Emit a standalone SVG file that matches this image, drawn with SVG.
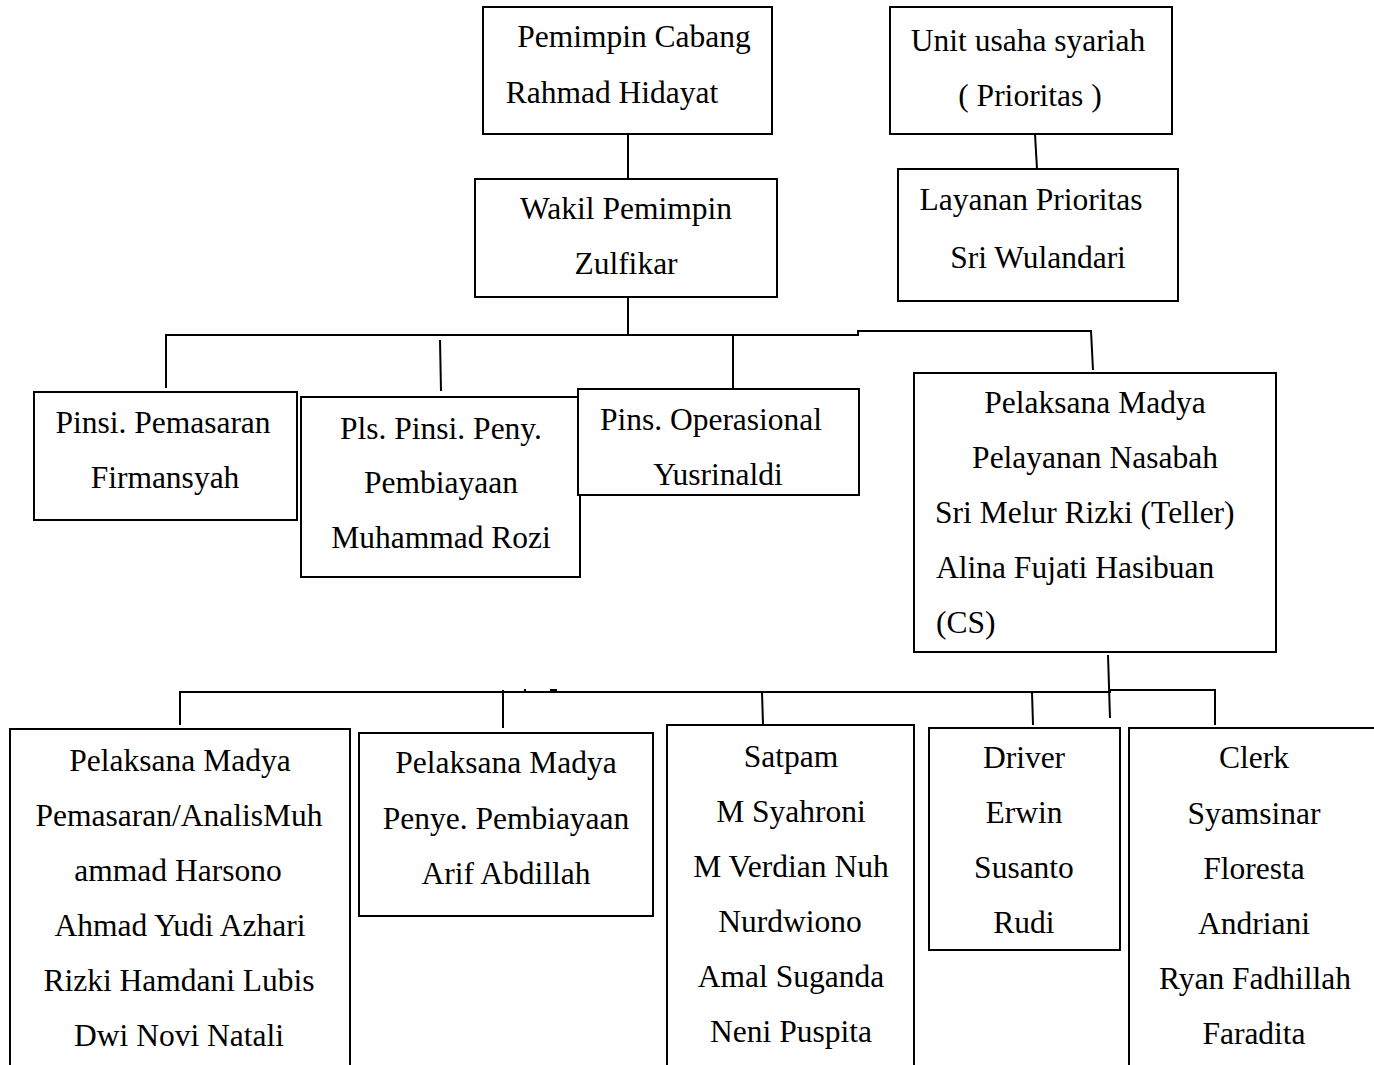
<svg xmlns="http://www.w3.org/2000/svg" width="1374" height="1065" viewBox="0 0 1374 1065">
<style>
  .box { fill: #fff; stroke: #000; stroke-width: 2; }
  .open { fill: none; stroke: #000; stroke-width: 2; }
  .ln { fill: none; stroke: #000; stroke-width: 2; }
  text { font-family: "Liberation Serif", "Times New Roman", serif; font-size: 31.5px; fill: #000; text-anchor: middle; }
  text.l { text-anchor: start; }
</style>
<rect width="1374" height="1065" fill="#fff"/>

<g id="connectors">
  <line class="ln" x1="628" y1="134" x2="628" y2="179"/>
  <line class="ln" x1="1035" y1="134" x2="1037" y2="169"/>
  <line class="ln" x1="628" y1="297" x2="628" y2="335"/>
  <polyline class="ln" points="166,388 166,335 858,335 858,331 1091,331 1093,370"/>
  <line class="ln" x1="440" y1="340" x2="441" y2="391"/>
  <line class="ln" x1="733" y1="335" x2="733" y2="388"/>
  <line class="ln" x1="1108" y1="655" x2="1110" y2="718"/>
  <polyline class="ln" points="180,725 180,692 1110,692 1110,690 1215,690 1215,725"/>
  <line class="ln" x1="503" y1="690" x2="503" y2="728"/>
  <line class="ln" x1="762" y1="692" x2="763" y2="725"/>
  <line class="ln" x1="1032" y1="692" x2="1033" y2="725"/>
  <line class="ln" x1="525" y1="689" x2="525" y2="692"/>
  <line class="ln" x1="550" y1="690" x2="557" y2="690"/>
</g>

<g id="pemimpin-cabang">
  <rect class="box" x="483" y="7" width="289" height="127"/>
  <text x="634" y="47">Pemimpin Cabang</text>
  <text x="612" y="103">Rahmad Hidayat</text>
</g>

<g id="unit-usaha-syariah">
  <rect class="box" x="890" y="7" width="282" height="127"/>
  <text x="1028" y="51">Unit usaha syariah</text>
  <text x="1030" y="106">( Prioritas )</text>
</g>

<g id="wakil-pemimpin">
  <rect class="box" x="475" y="179" width="302" height="118"/>
  <text x="626" y="219">Wakil Pemimpin</text>
  <text x="626" y="274">Zulfikar</text>
</g>

<g id="layanan-prioritas">
  <rect class="box" x="898" y="169" width="280" height="132"/>
  <text x="1031" y="210">Layanan Prioritas</text>
  <text x="1038" y="268">Sri Wulandari</text>
</g>

<g id="pinsi-pemasaran">
  <rect class="box" x="34" y="392" width="263" height="128"/>
  <text x="163" y="433">Pinsi. Pemasaran</text>
  <text x="165" y="488">Firmansyah</text>
</g>

<g id="pls-pinsi-peny">
  <rect class="box" x="301" y="397" width="279" height="180"/>
  <text x="441" y="439">Pls. Pinsi. Peny.</text>
  <text x="441" y="493">Pembiayaan</text>
  <text x="441" y="548">Muhammad Rozi</text>
</g>

<g id="pins-operasional">
  <rect class="box" x="578" y="389" width="281" height="106"/>
  <text x="711" y="430">Pins. Operasional</text>
  <text x="718" y="485">Yusrinaldi</text>
</g>

<g id="pelayanan-nasabah">
  <rect class="box" x="914" y="373" width="362" height="279"/>
  <text x="1095" y="413">Pelaksana Madya</text>
  <text x="1095" y="468">Pelayanan Nasabah</text>
  <text class="l" x="935" y="523">Sri Melur Rizki (Teller)</text>
  <text class="l" x="936" y="578">Alina Fujati Hasibuan</text>
  <text class="l" x="936" y="633">(CS)</text>
</g>

<g id="pemasaran-analis">
  <polyline class="open" points="10,1066 10,729 350,729 350,1066"/>
  <text x="180" y="771">Pelaksana Madya</text>
  <text x="179" y="826">Pemasaran/AnalisMuh</text>
  <text x="178" y="881">ammad Harsono</text>
  <text x="180" y="936">Ahmad Yudi Azhari</text>
  <text x="179" y="991">Rizki Hamdani Lubis</text>
  <text x="179" y="1046">Dwi Novi Natali</text>
</g>

<g id="penye-pembiayaan">
  <rect class="box" x="359" y="733" width="294" height="183"/>
  <text x="506" y="773">Pelaksana Madya</text>
  <text x="506" y="829">Penye. Pembiayaan</text>
  <text x="506" y="884">Arif Abdillah</text>
</g>

<g id="satpam">
  <polyline class="open" points="667,1066 667,725 914,725 914,1066"/>
  <text x="791" y="767">Satpam</text>
  <text x="791" y="822">M Syahroni</text>
  <text x="791" y="877">M Verdian Nuh</text>
  <text x="790" y="932">Nurdwiono</text>
  <text x="791" y="987">Amal Suganda</text>
  <text x="791" y="1042">Neni Puspita</text>
</g>

<g id="driver">
  <rect class="box" x="929" y="728" width="191" height="222"/>
  <text x="1024" y="768">Driver</text>
  <text x="1024" y="823">Erwin</text>
  <text x="1024" y="878">Susanto</text>
  <text x="1024" y="933">Rudi</text>
</g>

<g id="clerk">
  <polyline class="open" points="1129,1066 1129,728 1375,728"/>
  <text x="1254" y="768">Clerk</text>
  <text x="1254" y="824">Syamsinar</text>
  <text x="1254" y="879">Floresta</text>
  <text x="1254" y="934">Andriani</text>
  <text x="1255" y="989">Ryan Fadhillah</text>
  <text x="1254" y="1044">Faradita</text>
</g>
</svg>
